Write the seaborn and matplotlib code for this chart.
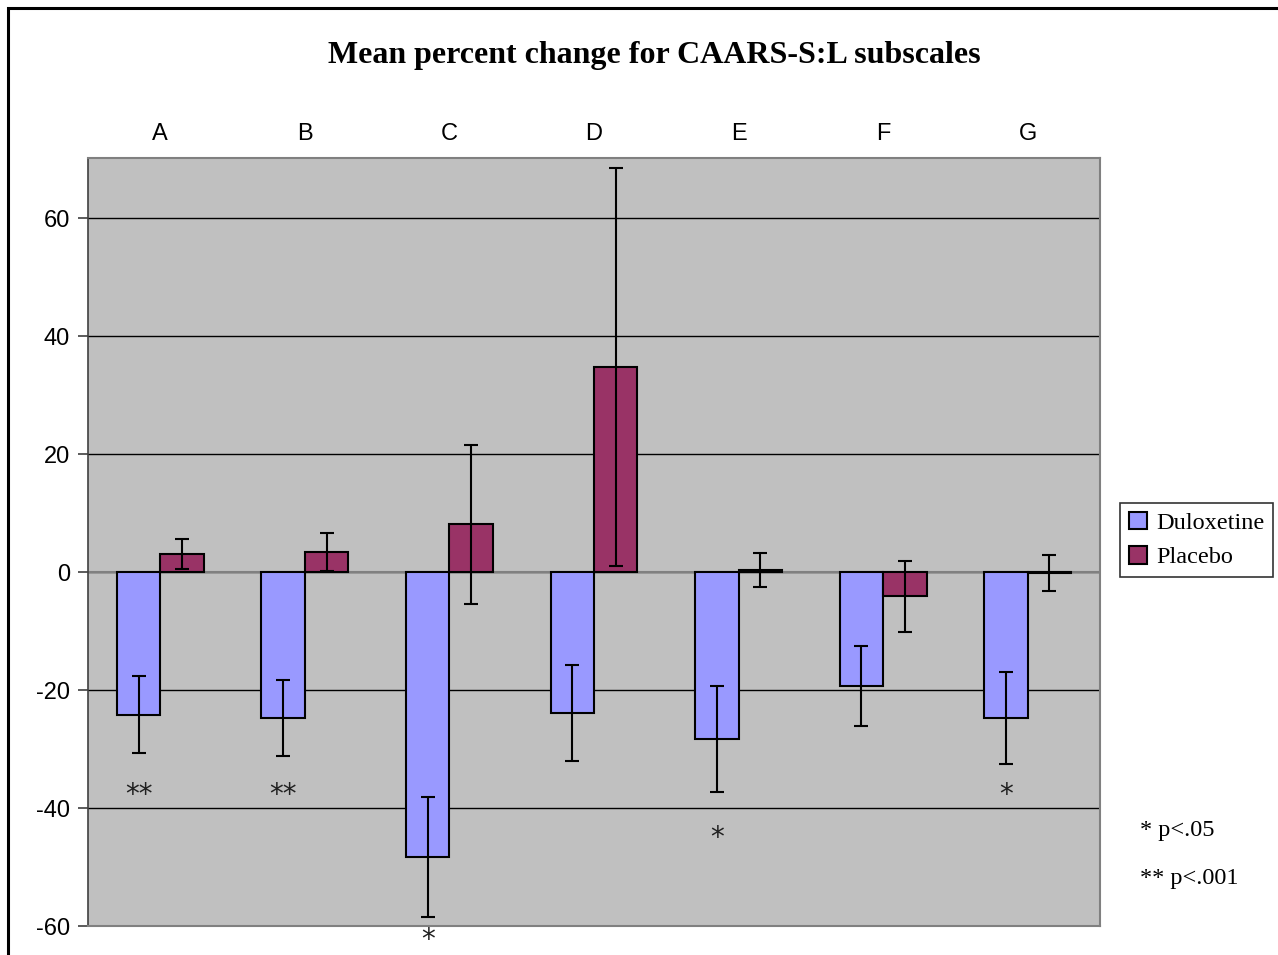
import matplotlib
matplotlib.use("Agg")
import matplotlib.pyplot as plt
import matplotlib.patches as mpatches
import seaborn as sns
import pandas as pd
import numpy as np

categories = ["A", "B", "C", "D", "E", "F", "G"]
series = ["Duloxetine", "Placebo"]
dulox_mean = [-24.2, -24.7, -48.3, -23.9, -28.3, -19.3, -24.7]
dulox_se = [6.5, 6.45, 10.1, 8.2, 9.0, 6.8, 7.8]
placebo_mean = [3.05, 3.4, 8.1, 34.7, 0.3, -4.1, -0.2]
placebo_se = [2.55, 3.2, 13.5, 33.75, 2.9, 6.0, 3.05]
stars = ["**", "**", "*", "", "*", "", "*"]
star_y = [-37.8, -37.8, -62.3, 0, -45.0, 0, -37.8]
yticks = [-60, -40, -20, 0, 20, 40, 60]
footnotes = ["* p<.05", "** p<.001"]

df = pd.DataFrame({
    "cat": categories * 2,
    "series": [series[0]] * 7 + [series[1]] * 7,
    "mean": dulox_mean + placebo_mean,
})

sns.set_theme(style="white")
plt.rcParams["font.family"] = ["Liberation Sans", "DejaVu Sans"]
plt.rcParams["text.color"] = "black"
plt.rcParams["xtick.color"] = "black"
plt.rcParams["ytick.color"] = "black"

W, H = 1278, 955
fig = plt.figure(figsize=(W / 100, H / 100), dpi=100)
ax = fig.add_axes([88 / W, 1 - 926 / H, (1100 - 88) / W, (926 - 158) / H])
ax.set_facecolor("#C0C0C0")

colors = {"Duloxetine": "#9999FF", "Placebo": "#993366"}
sns.barplot(data=df, x="cat", y="mean", hue="series", hue_order=series,
            order=categories, palette=colors, saturation=1, width=0.6, gap=0,
            edgecolor="black", linewidth=1.5, errorbar=None, ax=ax,
            legend=False, zorder=3)

ax.set_ylim(-60, 70.2)
ax.set_xlim(-0.5, 6.5)
ax.set_yticks(yticks)
ax.set_yticklabels([str(t) for t in yticks], fontsize=17)
ax.yaxis.grid(True, color="black", linewidth=1.0, zorder=1)
ax.set_axisbelow(True)
ax.axhline(0, color="#808080", linewidth=1.5, zorder=2)

for sp in ["top", "right", "bottom"]:
    ax.spines[sp].set_color("#808080")
    ax.spines[sp].set_linewidth(1.5)
ax.spines["left"].set_color("#404040")
ax.spines["left"].set_linewidth(1.2)
ax.tick_params(axis="y", left=True, length=7, width=1.2, color="#404040",
               direction="out", pad=6, labelcolor="black")

ax.xaxis.tick_top()
ax.tick_params(axis="x", top=False, bottom=False, length=0, pad=9,
               labelsize=17, labelcolor="black")
ax.set_xlabel("")
ax.set_ylabel("")
ax.xaxis.set_tick_params(labeltop=True)

ses = [dulox_se, placebo_se]
for cont, se in zip(ax.containers, ses):
    xs = [p.get_x() + p.get_width() / 2 for p in cont.patches]
    ys = [p.get_y() + p.get_height() for p in cont.patches]
    ax.errorbar(xs, ys, yerr=se, fmt="none", ecolor="black", elinewidth=1.5,
                capsize=5, capthick=1.5, zorder=4)

d_cont = ax.containers[0]
for p, s, yv in zip(d_cont.patches, stars, star_y):
    if s:
        ax.text(p.get_x() + p.get_width() / 2, yv, s, ha="center",
                va="center", fontsize=20, family="DejaVu Sans",
                color="#202020", clip_on=False)

fig.text(654 / W, 1 - 56 / H, "Mean percent change for CAARS-S:L subscales",
         ha="center", va="center", fontsize=23, fontweight="bold",
         family="Liberation Serif")

fig.text(1140 / W, 1 - 830 / H, footnotes[0], ha="left", va="center",
         fontsize=17.5, family="Liberation Serif")
fig.text(1140 / W, 1 - 878 / H, footnotes[1], ha="left", va="center",
         fontsize=17.5, family="Liberation Serif")

handles = [mpatches.Patch(facecolor=colors[s], edgecolor="black", linewidth=1.5)
           for s in series]
leg = fig.legend(handles, series, loc="upper left",
                 bbox_to_anchor=(1120 / W, 1 - 503 / H),
                 prop={"family": "Liberation Serif", "size": 17.5},
                 frameon=True, fancybox=False, edgecolor="black",
                 handlelength=0.75, handleheight=0.75, handletextpad=0.4,
                 borderpad=0.35, labelspacing=0.5, borderaxespad=0)
leg.get_frame().set_linewidth(1.2)

border = mpatches.Rectangle((8 / W, -0.1), 1.2, 1 - 8 / H + 0.1,
                            transform=fig.transFigure, fill=False,
                            edgecolor="black", linewidth=2.2, zorder=10)
fig.patches.append(border)

fig.savefig("out.png", dpi=100)
